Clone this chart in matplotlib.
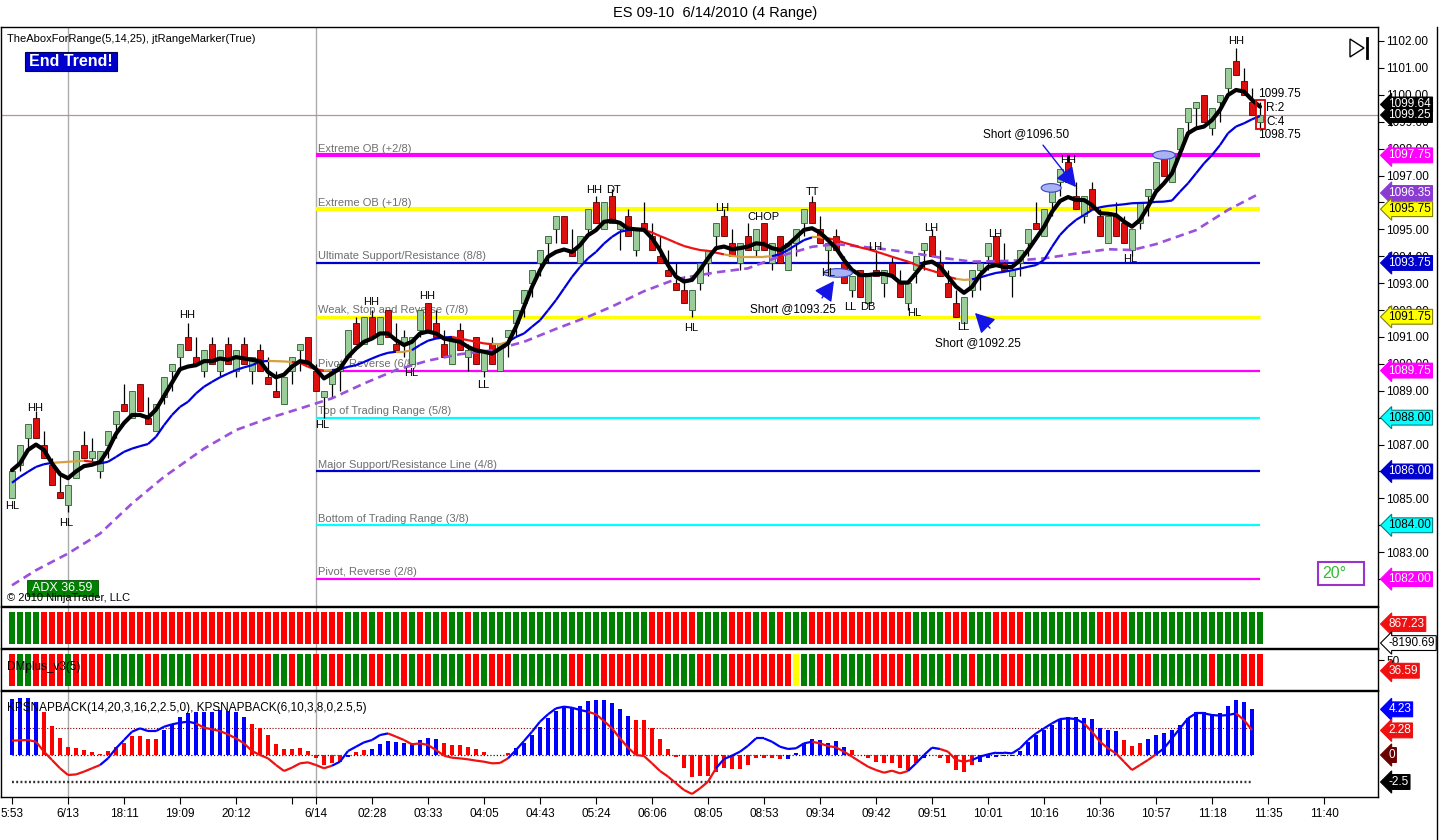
import matplotlib
matplotlib.use("Agg")
import matplotlib.pyplot as plt
import matplotlib.transforms as mtransforms
import numpy as np
from matplotlib.collections import LineCollection
from matplotlib.lines import Line2D
from matplotlib.patches import Ellipse, Polygon, Rectangle

plt.rcParams["font.family"] = ["Liberation Sans", "DejaVu Sans"]

# ---- 4-tick range bars, ES 09-10 ----
opens = [
    1085.0, 1086.25, 1087.25, 1088.0, 1087.0, 1086.25, 1085.25, 1084.75, 1085.75, 1087.0,
    1086.5, 1086.0, 1087.0, 1087.75, 1088.5, 1088.0, 1089.25, 1088.0, 1087.5, 1088.75,
    1089.75, 1090.25, 1091.0, 1090.25, 1089.75, 1090.75, 1089.75, 1090.75, 1089.75, 1090.75,
    1089.75, 1090.5, 1089.5, 1089.0, 1088.5, 1089.75, 1090.5, 1091.0, 1089.75, 1088.75,
    1089.25, 1089.75, 1090.25, 1091.5, 1090.75, 1091.75, 1090.75, 1092.0, 1090.75, 1090.75,
    1090.0, 1091.25, 1092.25, 1091.5, 1090.75, 1090.0, 1091.25, 1090.25, 1091.0, 1089.75,
    1090.75, 1089.75, 1091.0, 1091.5, 1092.25, 1093.0, 1093.75, 1094.5, 1095.0, 1095.5,
    1094.25, 1093.75, 1095.0, 1096.0, 1095.0, 1096.25, 1095.0, 1095.5, 1094.25, 1095.25,
    1094.75, 1094.0, 1093.5, 1093.0, 1092.75, 1092.0, 1093.0, 1093.75, 1094.75, 1095.5,
    1094.5, 1093.75, 1094.75, 1094.25, 1095.25, 1093.75, 1094.75, 1093.5, 1094.5, 1095.25,
    1096.0, 1095.0, 1094.25, 1094.75, 1093.75, 1092.75, 1093.5, 1092.25, 1093.5, 1093.0,
    1093.75, 1093.0, 1092.25, 1093.5, 1094.25, 1094.75, 1093.75, 1093.0, 1092.25, 1091.5,
    1092.75, 1093.5, 1094.0, 1094.75, 1093.75, 1093.25, 1093.75, 1094.5, 1095.25, 1094.75,
    1096.0, 1096.75, 1097.5, 1096.25, 1095.5, 1096.5, 1095.5, 1094.5, 1095.5, 1095.25,
    1094.25, 1095.25, 1096.25, 1096.5, 1097.75, 1096.75, 1098.0, 1099.0, 1099.5, 1100.0,
    1098.75, 1099.75, 1100.25, 1101.25, 1100.5, 1099.75, 1099.0]
highs = [
    1086.0, 1087.0, 1087.75, 1088.25, 1087.5, 1086.5, 1086.0, 1085.5, 1086.75, 1087.5,
    1087.25, 1086.75, 1087.5, 1088.25, 1089.25, 1089.0, 1089.25, 1088.75, 1088.5, 1089.5,
    1090.0, 1090.75, 1091.5, 1091.0, 1090.5, 1091.0, 1090.5, 1091.0, 1090.5, 1091.0,
    1090.25, 1090.75, 1090.25, 1089.75, 1089.5, 1090.25, 1090.75, 1091.0, 1090.0, 1089.0,
    1089.75, 1090.0, 1091.25, 1091.75, 1091.75, 1092.0, 1091.75, 1092.0, 1091.5, 1091.25,
    1091.0, 1092.0, 1092.25, 1092.0, 1091.25, 1091.0, 1091.5, 1090.75, 1091.0, 1090.5,
    1091.0, 1090.75, 1091.25, 1092.0, 1092.75, 1093.5, 1094.25, 1094.75, 1095.5, 1095.5,
    1095.0, 1094.75, 1095.75, 1096.25, 1096.0, 1096.5, 1095.25, 1095.75, 1095.0, 1096.0,
    1095.25, 1094.75, 1094.25, 1093.75, 1093.25, 1092.75, 1093.75, 1094.25, 1095.25, 1095.75,
    1095.0, 1094.5, 1095.25, 1095.0, 1095.25, 1094.5, 1094.75, 1094.5, 1095.0, 1095.75,
    1096.25, 1095.5, 1094.5, 1095.0, 1094.0, 1093.25, 1093.5, 1093.25, 1094.25, 1093.5,
    1094.0, 1093.5, 1093.0, 1094.0, 1094.5, 1095.0, 1094.25, 1093.5, 1092.75, 1092.5,
    1093.5, 1093.75, 1094.5, 1094.75, 1094.5, 1093.5, 1094.25, 1095.0, 1096.0, 1095.75,
    1096.5, 1097.25, 1097.75, 1096.75, 1096.25, 1096.75, 1095.75, 1095.5, 1096.0, 1095.5,
    1095.0, 1096.0, 1096.5, 1097.5, 1097.75, 1097.75, 1098.75, 1099.5, 1099.75, 1100.0,
    1099.5, 1100.0, 1101.0, 1101.75, 1101.0, 1100.25, 1099.75]
lows = [
    1085.0, 1086.0, 1086.75, 1087.25, 1086.5, 1085.5, 1085.0, 1084.5, 1085.75, 1086.5,
    1086.25, 1085.75, 1086.5, 1087.25, 1088.25, 1088.0, 1088.25, 1087.75, 1087.5, 1088.5,
    1089.0, 1089.75, 1090.5, 1090.0, 1089.5, 1090.0, 1089.5, 1090.0, 1089.5, 1090.0,
    1089.25, 1089.75, 1089.25, 1088.75, 1088.5, 1089.25, 1089.75, 1090.0, 1089.0, 1088.0,
    1088.75, 1089.0, 1090.25, 1090.75, 1090.75, 1091.0, 1090.75, 1091.0, 1090.5, 1090.25,
    1090.0, 1091.0, 1091.25, 1091.0, 1090.25, 1090.0, 1090.5, 1089.75, 1090.0, 1089.5,
    1090.0, 1089.75, 1090.25, 1091.0, 1091.75, 1092.5, 1093.25, 1093.75, 1094.5, 1094.5,
    1094.0, 1093.75, 1094.75, 1095.25, 1095.0, 1095.25, 1094.25, 1094.75, 1094.0, 1095.0,
    1094.25, 1093.75, 1093.25, 1092.75, 1092.25, 1091.75, 1092.75, 1093.25, 1094.25, 1094.75,
    1094.0, 1093.5, 1094.25, 1094.0, 1094.25, 1093.5, 1093.75, 1093.5, 1094.0, 1094.75,
    1095.25, 1094.5, 1093.5, 1094.25, 1093.0, 1092.5, 1092.5, 1092.25, 1093.25, 1092.5,
    1093.25, 1092.5, 1092.0, 1093.0, 1093.5, 1094.0, 1093.25, 1092.5, 1091.75, 1091.5,
    1092.5, 1092.75, 1093.5, 1093.75, 1093.5, 1092.5, 1093.25, 1094.0, 1095.0, 1094.75,
    1095.5, 1096.25, 1096.75, 1095.75, 1095.25, 1095.75, 1094.75, 1094.5, 1094.75, 1094.5,
    1094.0, 1095.0, 1095.5, 1096.5, 1097.0, 1096.75, 1097.75, 1098.5, 1098.75, 1099.0,
    1098.5, 1099.0, 1100.0, 1100.75, 1100.0, 1099.25, 1098.75]
closes = [
    1086.0, 1087.0, 1087.75, 1087.25, 1086.5, 1085.5, 1085.0, 1085.5, 1086.75, 1086.5,
    1086.75, 1086.75, 1087.5, 1088.25, 1088.25, 1089.0, 1088.25, 1087.75, 1088.5, 1089.5,
    1090.0, 1090.75, 1090.5, 1090.0, 1090.5, 1090.0, 1090.5, 1090.0, 1090.5, 1090.0,
    1090.25, 1089.75, 1089.25, 1088.75, 1089.5, 1090.25, 1090.75, 1090.0, 1089.0, 1089.0,
    1089.75, 1090.0, 1091.25, 1090.75, 1091.75, 1091.0, 1091.75, 1091.0, 1090.5, 1091.0,
    1091.0, 1092.0, 1091.25, 1091.0, 1090.25, 1091.0, 1090.5, 1090.5, 1090.0, 1090.5,
    1090.0, 1090.75, 1091.25, 1092.0, 1092.75, 1093.5, 1094.25, 1094.75, 1095.5, 1094.5,
    1094.0, 1094.75, 1095.75, 1095.25, 1096.0, 1095.25, 1095.25, 1094.75, 1095.0, 1095.0,
    1094.25, 1093.75, 1093.25, 1092.75, 1092.25, 1092.75, 1093.75, 1094.25, 1095.25, 1094.75,
    1094.0, 1094.5, 1094.25, 1095.0, 1094.25, 1094.5, 1093.75, 1094.5, 1095.0, 1095.75,
    1095.25, 1094.5, 1094.5, 1094.25, 1093.0, 1093.25, 1092.5, 1093.25, 1093.25, 1093.5,
    1093.25, 1092.5, 1093.0, 1094.0, 1094.5, 1094.0, 1093.25, 1092.5, 1091.75, 1092.5,
    1093.5, 1093.75, 1094.5, 1093.75, 1093.5, 1093.5, 1094.25, 1095.0, 1095.0, 1095.75,
    1096.5, 1097.25, 1096.75, 1095.75, 1096.25, 1095.75, 1094.75, 1095.5, 1094.75, 1094.5,
    1095.0, 1096.0, 1096.5, 1097.5, 1097.0, 1097.75, 1098.75, 1099.5, 1099.75, 1099.0,
    1099.5, 1100.0, 1101.0, 1100.75, 1100.0, 1099.25, 1099.25]

# ---- TheAbox lines ----
black_line = [
    1086.05, 1086.3, 1086.8, 1087.0, 1086.8, 1086.3, 1085.9, 1085.75, 1086.0, 1086.2,
    1086.25, 1086.35, 1086.8, 1087.4, 1087.8, 1088.1, 1088.1, 1088.0, 1088.3, 1088.8,
    1089.3, 1089.8, 1089.9, 1089.95, 1090.1, 1090.1, 1090.2, 1090.15, 1090.25, 1090.2,
    1090.15, 1090.1, 1089.7, 1089.5, 1089.6, 1089.9, 1090.1, 1090.05, 1089.8, 1089.46,
    1089.64, 1089.83, 1090.26, 1090.57, 1090.82, 1090.94, 1091.13, 1091.13, 1090.88, 1090.7,
    1090.82, 1091.13, 1091.2, 1091.13, 1090.94, 1090.88, 1090.82, 1090.63, 1090.5, 1090.45,
    1090.38, 1090.57, 1090.76, 1091.38, 1092.12, 1092.86, 1093.48, 1093.98, 1094.16, 1094.25,
    1094.16, 1094.41, 1094.78, 1094.97, 1095.28, 1095.32, 1095.24, 1095.03, 1095.0, 1094.98,
    1094.67, 1094.23, 1093.67, 1093.24, 1093.06, 1093.12, 1093.49, 1093.92, 1094.3, 1094.36,
    1094.26, 1094.3, 1094.36, 1094.48, 1094.45, 1094.3, 1094.23, 1094.42, 1094.7, 1094.98,
    1095.04, 1094.88, 1094.6, 1094.3, 1093.86, 1093.49, 1093.3, 1093.3, 1093.34, 1093.34,
    1093.27, 1093.02, 1093.02, 1093.37, 1093.74, 1093.8, 1093.61, 1093.24, 1092.87, 1092.64,
    1092.86, 1093.3, 1093.6, 1093.67, 1093.6, 1093.6, 1093.85, 1094.23, 1094.66, 1095.09,
    1095.65, 1096.05, 1096.2, 1096.09, 1096.09, 1095.9, 1095.6, 1095.58, 1095.53, 1095.29,
    1095.1, 1095.35, 1095.84, 1096.4, 1096.71, 1097.08, 1097.83, 1098.57, 1098.75, 1098.82,
    1099.06, 1099.44, 1099.99, 1100.18, 1100.12, 1099.81, 1099.56]
trend_line = [
    1085.58, 1085.8, 1085.99, 1086.17, 1086.27, 1086.32, 1086.34, 1086.36, 1086.38, 1086.4,
    1086.36, 1086.3, 1086.36, 1086.54, 1086.73, 1086.85, 1086.94, 1087.02, 1087.29, 1087.72,
    1088.1, 1088.4, 1088.59, 1088.9, 1089.15, 1089.33, 1089.5, 1089.64, 1089.77, 1089.87,
    1089.95, 1090.08, 1090.11, 1090.1, 1090.09, 1090.07, 1090.04, 1089.89, 1089.8, 1089.75,
    1089.77, 1089.8, 1089.89, 1089.95, 1090.07, 1090.2, 1090.32, 1090.41, 1090.45, 1090.45,
    1090.51, 1090.7, 1090.86, 1090.94, 1090.98, 1091.0, 1090.94, 1090.88, 1090.82, 1090.76,
    1090.73, 1090.73, 1090.82, 1091.0, 1091.13, 1091.38, 1091.62, 1091.99, 1092.37, 1092.8,
    1093.23, 1093.6, 1093.92, 1094.16, 1094.47, 1094.72, 1094.91, 1094.97, 1095.0, 1094.98,
    1094.88, 1094.75, 1094.63, 1094.5, 1094.38, 1094.3, 1094.23, 1094.2, 1094.13, 1094.07,
    1094.01, 1093.98, 1093.98, 1093.98, 1093.98, 1094.0, 1094.08, 1094.23, 1094.42, 1094.6,
    1094.7, 1094.7, 1094.67, 1094.6, 1094.5, 1094.42, 1094.33, 1094.26, 1094.17, 1094.08,
    1093.98, 1093.89, 1093.8, 1093.68, 1093.55, 1093.46, 1093.37, 1093.24, 1093.16, 1093.12,
    1093.14, 1093.21, 1093.3, 1093.38, 1093.42, 1093.48, 1093.54, 1093.61, 1093.67, 1093.86,
    1094.35, 1094.79, 1095.1, 1095.35, 1095.53, 1095.72, 1095.82, 1095.87, 1095.9, 1095.93,
    1095.97, 1095.98, 1095.99, 1096.02, 1096.03, 1096.07, 1096.4, 1096.71, 1097.08, 1097.45,
    1097.76, 1098.13, 1098.57, 1098.82, 1098.94, 1099.09, 1099.21]
trend_colors = ("BBBBBBOOOO" "RRBBBBBBBB" "BBBBBBBBBB" "BBBOOORRRR" "OBBBBBBBBO"
                "OBBBBBRRRR" "ROOBBBBBBB" "BBBBBBBBBO" "RRRRRRRRRR" "OOOOOOBBBB"
                "BOORRRRRRR" "RRRRRRRRRO" "OBBBBBBBBB" "BBBBBBBBBB" "BBBBBBBBBB"
                "BBBBBBB")
purple_bars = [0, 3, 7, 11, 15, 19, 24, 28, 32, 36, 40, 44, 48, 52, 56, 60, 64, 68, 72, 75,
               79, 83, 88, 92, 96, 100, 103, 108, 112, 116, 120, 125, 129, 133, 137, 140,
               143, 148, 152, 156]
purple_vals = [1081.77, 1082.33, 1082.95, 1083.69, 1084.81, 1085.8, 1086.85, 1087.54,
               1087.97, 1088.34, 1088.72, 1089.27, 1089.77, 1090.12, 1090.36, 1090.5,
               1090.82, 1091.3, 1091.75, 1092.13, 1092.7, 1093.15, 1093.4, 1093.55, 1094.0,
               1094.35, 1094.45, 1094.3, 1094.15, 1093.95, 1093.8, 1093.83, 1093.92, 1094.1,
               1094.26, 1094.23, 1094.45, 1094.97, 1095.72, 1096.34]

# ---- Murrey levels ----
level_prices = [1097.75, 1095.75, 1093.75, 1091.75, 1089.75, 1088.0, 1086.0, 1084.0, 1082.0]
level_names = ["Extreme OB (+2/8)", "Extreme OB (+1/8)", "Ultimate Support/Resistance (8/8)",
               "Weak, Stop and Reverse (7/8)", "Pivot, Reverse (6/8)",
               "Top of Trading Range (5/8)", "Major Support/Resistance Line (4/8)",
               "Bottom of Trading Range (3/8)", "Pivot, Reverse (2/8)"]
level_colors = ["#FF00FF", "#FFFF00", "#0000CC", "#FFFF00", "#FF00FF",
                "#00FFFF", "#0000CC", "#00FFFF", "#FF00FF"]
level_widths = [3.0, 3.0, 1.6, 2.4, 1.6, 1.6, 1.6, 1.6, 1.6]

# ---- swing marker labels (bar, price, text) ----
swing_bars = [0, 2.9, 6.75, 21.9, 38.75, 44.9, 49.9, 51.9, 58.9, 72.8, 75.2, 84.9, 88.75,
              93.9, 100, 102, 104.8, 107.0, 107.9, 112.75, 114.9, 118.9, 122.9, 132, 139.75,
              153]
swing_prices = [1084.71, 1088.36, 1084.08, 1091.81, 1087.72, 1092.3, 1089.66, 1092.52,
                1089.21, 1096.46, 1096.46, 1091.33, 1095.79, 1095.46, 1096.39, 1093.38,
                1092.11, 1092.11, 1094.34, 1091.89, 1095.05, 1091.37, 1094.83, 1097.58,
                1093.9, 1102.0]
swing_texts = ["HL", "HH", "HL", "HH", "HL", "HH", "HL", "HH", "LL", "HH", "DT", "HL", "LH",
               "CHOP", "TT", "HL", "LL", "DB", "LH", "HL", "LH", "LL", "LH", "HH", "HL", "HH"]

# ---- lower panels ----
strip_top = ("GGGGRRRRRR" "RRRRRRRRRR" "RRRRRRRRRR" "RRRRRRRRRR" "RRGGRGRGGR"
             "GRGGRGGRGG" "GGGGGGGGGG" "GGGGGGGGGG" "RRRRRRGGGG" "RRRGRGRGGG"
             "RRRRRRRRRR" "RRRGGGGRRR" "GGGRRRRGGG" "GGGGGGRRRR" "GGGGGGGGGG"
             "GGGGGGG")
strip_dmi = ("RGGRRRRGRR" "RRGGGGGRRG" "GGGRRRRRRR" "RRRGGRGGRG" "RRGGGRRGGR"
             "GRRGGGGRRG" "RRRGGGGGGG" "RRGGRRRRRR" "RRGGGGRRGG" "RRRRRRRRYG"
             "GRGRGGGGRR" "RRGRGGGRGG" "RGGGRRRGGG" "GGGRRRRRRR" "GRRGGGGGGG"
             "RGGGRRR")
kps_hist = [
    5.19, 5.25, 5.25, 4.88, 4.01, 2.69, 1.6, 0.77, 0.62, 0.46,
    0.31, 0.06, 0.37, 0.77, 1.14, 1.76, 1.76, 1.48, 1.48, 2.31,
    2.84, 3.49, 3.92, 4.01, 4.01, 4.01, 4.17, 4.07, 3.95, 3.49,
    2.87, 2.47, 1.85, 1.02, 0.56, 0.56, 0.62, 0.37, -0.25, -0.93,
    -0.77, -0.62, -0.2, 0.31, 0.46, 0.56, 1.02, 1.33, 1.23, 1.14,
    1.14, 1.39, 1.6, 1.48, 1.14, 0.93, 0.93, 0.77, 0.56, 0.31,
    0.02, 0.02, 0.2, 0.62, 1.08, 1.85, 2.62, 3.4, 4.07, 4.54,
    4.32, 4.54, 5.0, 5.09, 5.09, 4.85, 4.23, 3.61, 3.24, 3.24,
    2.47, 1.48, 0.56, -0.2, -1.17, -2.0, -1.94, -1.94, -1.6, -1.17,
    -1.3, -1.3, -0.93, -0.31, -0.25, -0.31, -0.37, -0.4, 0.15, 1.08,
    1.48, 1.39, 1.14, 1.33, 0.77, 0.46, 0.02, -0.31, -0.62, -0.77,
    -0.71, -1.17, -1.39, -0.77, -0.31, 0.02, -0.31, -0.77, -1.39, -1.54,
    -0.93, -0.68, -0.31, -0.15, -0.1, -0.06, 0.37, 1.23, 1.85, 2.31,
    2.78, 3.3, 3.49, 3.49, 3.4, 3.3, 2.47, 2.31, 2.22, 1.39,
    0.83, 1.08, 1.48, 1.85, 2.0, 2.31, 2.78, 3.4, 3.95, 3.95,
    3.8, 3.86, 4.54, 5.09, 4.88, 4.26]
hist_colors = ("BBBBRRRRRR" "RRRRRRRRRB" "BBBBBBBBBB" "RRRRRRRRRR" "RRBRRBBBBB"
               "BBBBRRRRRR" "RRRBBBBBBB" "BBBBBBBBRR" "RRRRRRRRRR" "RRRRRRRBBB"
               "BBBBBRRRRR" "RRRRBBRRRR" "RBBBBBBBBB" "BBBBBBBBBR" "RRBBBBBBBB"
               "BBBBBB")
kps_line = [
    1.33, 1.36, 1.39, 1.23, 0.31, -0.46, -1.23, -1.85, -1.8, -1.54,
    -1.23, -0.93, -0.31, 0.62, 1.39, 2.16, 2.47, 2.22, 2.22, 2.62,
    2.84, 2.99, 3.09, 2.93, 2.53, 2.38, 2.22, 1.91, 1.54, 1.08,
    0.37, 0.0, -0.31, -0.93, -1.48, -1.17, -0.77, -0.68, -0.93, -1.23,
    -0.99, -0.62, 0.37, 0.77, 1.17, 1.39, 1.85, 2.0, 1.7, 1.39,
    0.99, 1.08, 0.93, 0.46, -0.06, -0.25, -0.31, -0.4, -0.52, -0.62,
    -0.77, -0.74, -0.31, 0.46, 1.3, 2.16, 3.09, 3.77, 4.32, 4.48,
    4.38, 4.17, 4.01, 3.77, 3.15, 2.47, 1.54, 0.68, 0.0, -0.09,
    -0.77, -1.48, -2.0, -2.62, -3.24, -3.61, -3.09, -2.47, -1.23, -0.37,
    -0.06, 0.31, 0.86, 1.54, 1.54, 1.23, 0.77, 0.56, 0.62, 1.08,
    1.23, 1.08, 0.83, 0.71, 0.31, -0.15, -0.62, -1.08, -1.39, -1.64,
    -1.45, -1.7, -1.48, -0.77, 0.0, 0.68, 0.56, 0.31, -0.46, -0.62,
    -0.46, -0.15, 0.06, 0.22, 0.22, 0.15, 0.62, 1.39, 2.0, 2.47,
    2.93, 3.33, 3.4, 3.33, 2.93, 2.16, 1.23, 0.62, 0.15, -0.62,
    -1.39, -0.93, -0.46, 0.06, 0.62, 1.54, 2.47, 3.4, 3.86, 3.86,
    3.7, 3.65, 3.7, 3.86, 3.24, 2.31]
kps_line_colors = ("RRRRRRRRRR" "RRBBBBBBBB" "BBBBRRRRRR" "RRRRRRRRRR" "RBBBBBBBRR"
                   "RRRRRRRRRR" "RRRBBBBBBB" "BBBRRRRRRR" "RRRRRRRRRB" "BBBBBBBBBB"
                   "BRRRRRRRRR" "RRRBBBBRRR" "RBBBBBBBBB" "BBBBBRRRRR" "RRRRBBBBBB"
                   "BBBBRR")

tick_bars = [0, 7, 14, 21, 28, 35, 38, 45, 52, 59, 66, 73, 80, 87, 94, 101, 108, 115,
             122, 129, 136, 143, 150, 157, 164]
tick_labels = ["5:53", "6/13", "18:11", "19:09", "20:12", "", "6/14", "02:28", "03:33",
               "04:05", "04:43", "05:24", "06:06", "08:05", "08:53", "09:34", "09:42",
               "09:51", "10:01", "10:16", "10:36", "10:57", "11:18", "11:35", "11:40"]

W, H = 1440.0, 840.0


def rect(top, bottom, left=1, right=1378):
    return [left / W, 1 - bottom / H, (right - left) / W, (bottom - top) / H]


def px(x, y):
    return x / W, 1 - y / H


def tag(ax, y, text, fc, tc="white", ec=None):
    tr = mtransforms.blended_transform_factory(ax.transAxes, ax.transData)
    ax.text(1.0075, y, text, transform=tr, fontsize=8.5, color=tc, ha="left", va="center",
            clip_on=False, zorder=20,
            bbox=dict(boxstyle="larrow,pad=0.12", fc=fc, ec=ec or fc, lw=0.8))


fig = plt.figure(figsize=(14.4, 8.4), dpi=100, facecolor="white")
ax = fig.add_axes(rect(27, 606))
ax2 = fig.add_axes(rect(607, 648), sharex=ax)
ax3 = fig.add_axes(rect(649, 690), sharex=ax)
ax4 = fig.add_axes(rect(691, 797), sharex=ax)

x = np.arange(len(closes))
o = np.array(opens)
c = np.array(closes)
up = c >= o

for a in (ax, ax2, ax3, ax4):
    for s in a.spines.values():
        s.set_linewidth(1.0)
    a.axvline(7, color="#ABABAB", lw=1, zorder=1)
    a.axvline(38, color="#ABABAB", lw=1, zorder=1)
    a.tick_params(axis="x", bottom=False, labelbottom=False)
    a.tick_params(axis="y", left=False, labelleft=False)

ax.set_xlim(-1.375, 170.75)

# ---- price panel ----
ax.set_ylim(1081.0, 1102.52)
ax.yaxis.tick_right()
yt = np.arange(1082, 1103, 1.0)
ax.set_yticks(yt)
# labels fully hidden behind the level tags are left blank
ax.set_yticklabels(["" if v in level_prices else f"{v:.2f}" for v in yt])
ax.tick_params(axis="y", right=True, labelright=True, direction="out", length=4,
               labelsize=8.5, pad=2)

ax.axhline(closes[-1], color="#B49494", lw=0.9, zorder=1)

for p, name, col, lw in zip(level_prices, level_names, level_colors, level_widths):
    ax.hlines(p, 38, 156, colors=col, lw=lw, zorder=2)
    ax.text(38.2, p + 0.06, name, fontsize=8, color="#6E6E6E", va="bottom", ha="left", zorder=2)

ax.vlines(x, lows, highs, color="black", lw=0.9, zorder=3)
body_lo = np.minimum(o, c)
body_h = np.maximum(np.abs(c - o), 0.07)
ax.bar(x[up], body_h[up], bottom=body_lo[up], width=0.72, color="#9ACD9A",
       edgecolor="#2E5E2E", lw=0.6, zorder=4)
ax.bar(x[~up], body_h[~up], bottom=body_lo[~up], width=0.72, color="#DD1010",
       edgecolor="#5A0000", lw=0.6, zorder=4)

ax.plot(purple_bars, purple_vals, color="#9A50DC", lw=1.9, ls=(0, (3.2, 2.0)), zorder=5)

cmap = {"B": "#0000DD", "R": "#EE1111", "O": "#D6A040"}
pts = np.column_stack([x, trend_line])
segs = np.stack([pts[:-1], pts[1:]], axis=1)
ax.add_collection(LineCollection(segs, colors=[cmap[ch] for ch in trend_colors[1:]],
                                 lw=1.6, zorder=5))
ax.plot(x, black_line, color="black", lw=3.0, zorder=6, solid_capstyle="round")

for b, p, t in zip(swing_bars, swing_prices, swing_texts):
    ax.text(b, p, t, fontsize=8, ha="center", va="center", color="black", zorder=9)

# shorts
arrow = dict(arrowstyle="-|>,head_length=0.6,head_width=0.32", color="#1414E6", lw=1.0,
             mutation_scale=20, shrinkA=0, shrinkB=0)
ax.annotate("", xy=(102.75, 1093.08), xytext=(101.25, 1092.45), arrowprops=arrow, zorder=9)
ax.annotate("", xy=(120.375, 1091.89), xytext=(122.25, 1091.33), arrowprops=arrow, zorder=9)
ax.annotate("", xy=(133.0, 1096.57), xytext=(128.875, 1098.13), arrowprops=arrow, zorder=9)
ax.text(97.6, 1092.04, "Short @1093.25", fontsize=8.5, ha="center", va="center", zorder=9)
ax.text(120.75, 1090.77, "Short @1092.25", fontsize=8.5, ha="center", va="center", zorder=9)
ax.text(126.75, 1098.54, "Short @1096.50", fontsize=8.5, ha="center", va="center", zorder=9)

for cx, cy, w in ((103.25, 1093.38, 3.6), (129.9, 1096.54, 2.5), (144.0, 1097.76, 2.8)):
    ax.add_patch(Ellipse((cx, cy), w, 0.32, fc="#A9B2F2", ec="#3A46C8", lw=0.8, zorder=7))

ax.add_patch(Rectangle((155.45, 1098.72), 1.15, 1.1, fill=False, ec="#E00000", lw=1.3,
                       zorder=8))
ax.text(155.75, 1100.03, "1099.75", fontsize=8.5, va="center", ha="left", zorder=9)
ax.text(156.75, 1099.51, "R:2", fontsize=8.5, va="center", ha="left", zorder=9)
ax.text(156.75, 1098.99, "C:4", fontsize=8.5, va="center", ha="left", zorder=9)
ax.text(155.75, 1098.5, "1098.75", fontsize=8.5, va="center", ha="left", zorder=9)

tag(ax, 1099.64, "1099.64", "black")
tag(ax, 1099.25, "1099.25", "black")
tag(ax, 1097.75, "1097.75", "#FF00FF")
tag(ax, 1096.35, "1096.35", "#8A3CD2")
tag(ax, 1095.75, "1095.75", "#FFFF00", "black", "#808000")
tag(ax, 1093.75, "1093.75", "#0000CC")
tag(ax, 1091.75, "1091.75", "#FFFF00", "black", "#808000")
tag(ax, 1089.75, "1089.75", "#FF00FF")
tag(ax, 1088.0, "1088.00", "#00FFFF", "black", "#008080")
tag(ax, 1086.0, "1086.00", "#0000CC")
tag(ax, 1084.0, "1084.00", "#00FFFF", "black", "#008080")
tag(ax, 1082.0, "1082.00", "#FF00FF")

# ---- color strips ----
strip_map = {"G": "#008000", "R": "#FF0000", "Y": "#FFFF00"}
for a, s in ((ax2, strip_top), (ax3, strip_dmi)):
    a.set_ylim(0, 1)
    a.bar(x, 0.78, bottom=0.1, width=0.8, color=[strip_map[ch] for ch in s], zorder=2)
tag(ax2, 0.585, "867.23", "#EE1111")
tag(ax2, 0.12, "-8190.69", "white", "black", "black")
ax3.yaxis.tick_right()
ax3.set_yticks([0.72])
ax3.set_yticklabels(["50"])
ax3.tick_params(axis="y", right=True, labelright=True, direction="out", length=4,
                labelsize=8.5, pad=2)
tag(ax3, 0.47, "36.59", "#EE1111")

# ---- KPSNAPBACK ----
xh = np.arange(len(kps_hist))
ax4.set_ylim(-3.89, 5.93)
ax4.bar(xh, kps_hist, width=0.62, zorder=3,
        color=["#0000FF" if ch == "B" else "#FF0000" for ch in hist_colors])
ax4.hlines(2.5, 0, 155, colors="#7A0000", lw=0.8, linestyles=(0, (1, 1.6)), zorder=2)
ax4.hlines(0, 0, 155, colors="#202020", lw=0.9, linestyles=(0, (1, 1.6)), zorder=2)
ax4.hlines(-2.5, 0, 155, colors="#303030", lw=1.7, linestyles=(0, (0.8, 1.0)), zorder=2)
kpts = np.column_stack([xh, kps_line])
ksegs = np.stack([kpts[:-1], kpts[1:]], axis=1)
ax4.add_collection(LineCollection(ksegs, lw=1.6, zorder=4,
                                  colors=["#0000FF" if ch == "B" else "#EE1111"
                                          for ch in kps_line_colors[1:]]))
tag(ax4, 4.23, "4.23", "#0000FF")
tag(ax4, 2.28, "2.28", "#EE1111")
tag(ax4, 0.0, "0", "#6A0000")
tag(ax4, -2.5, "-2.5", "black")

ax4.set_xticks(tick_bars)
ax4.set_xticklabels(tick_labels)
ax4.tick_params(axis="x", bottom=True, labelbottom=True, direction="out", length=5,
                labelsize=8.5, pad=3)

# ---- header and overlays ----
fig.text(*px(715, 13), "ES 09-10  6/14/2010 (4 Range)", ha="center", va="center",
         fontsize=10.5)
fig.text(*px(7, 39), "TheAboxForRange(5,14,25), jtRangeMarker(True)", ha="left",
         va="center", fontsize=8)
fig.add_artist(Rectangle(px(25, 71), 92 / W, 19 / H, transform=fig.transFigure,
                         fc="#0000CC", ec="#00005A", lw=0.8))
fig.text(*px(71, 61.5), "End Trend!", ha="center", va="center", fontsize=11.5,
         color="white", fontweight="bold")
fig.add_artist(Rectangle(px(27, 596), 71 / W, 16 / H, transform=fig.transFigure,
                         fc="#008000", ec="#005000", lw=0.6))
fig.text(*px(62, 588), "ADX 36.59", ha="center", va="center", fontsize=9, color="white")
fig.text(*px(7, 598), "\u00a9 2010 NinjaTrader, LLC", ha="left", va="center", fontsize=8)
fig.text(*px(7, 667), "DMplus_v3(5)", ha="left", va="center", fontsize=8.5)
fig.text(*px(7, 708), "KPSNAPBACK(14,20,3,16,2,2.5,0), KPSNAPBACK(6,10,3,8,0,2.5,5)",
         ha="left", va="center", fontsize=8.5)

fig.add_artist(Rectangle(px(1318, 585), 46 / W, 23 / H, transform=fig.transFigure,
                         fc="white", ec="#9933CC", lw=1.5))
fig.text(*px(1334, 573), "20\u00b0", ha="center", va="center", fontsize=11.5,
         color="#33BB33")

fig.add_artist(Polygon([px(1350, 39), px(1350, 57), px(1364, 48)], closed=True,
                       transform=fig.transFigure, fill=False, ec="black", lw=1.0))
fig.add_artist(Line2D([1367 / W, 1367 / W], [1 - 38 / H, 1 - 58 / H],
                      transform=fig.transFigure, color="black", lw=2.0))
fig.add_artist(Line2D([1437 / W, 1437 / W], [1 - 27 / H, 1 - 840 / H],
                      transform=fig.transFigure, color="black", lw=1.0))

fig.savefig("out.png", dpi=100, facecolor="white")
